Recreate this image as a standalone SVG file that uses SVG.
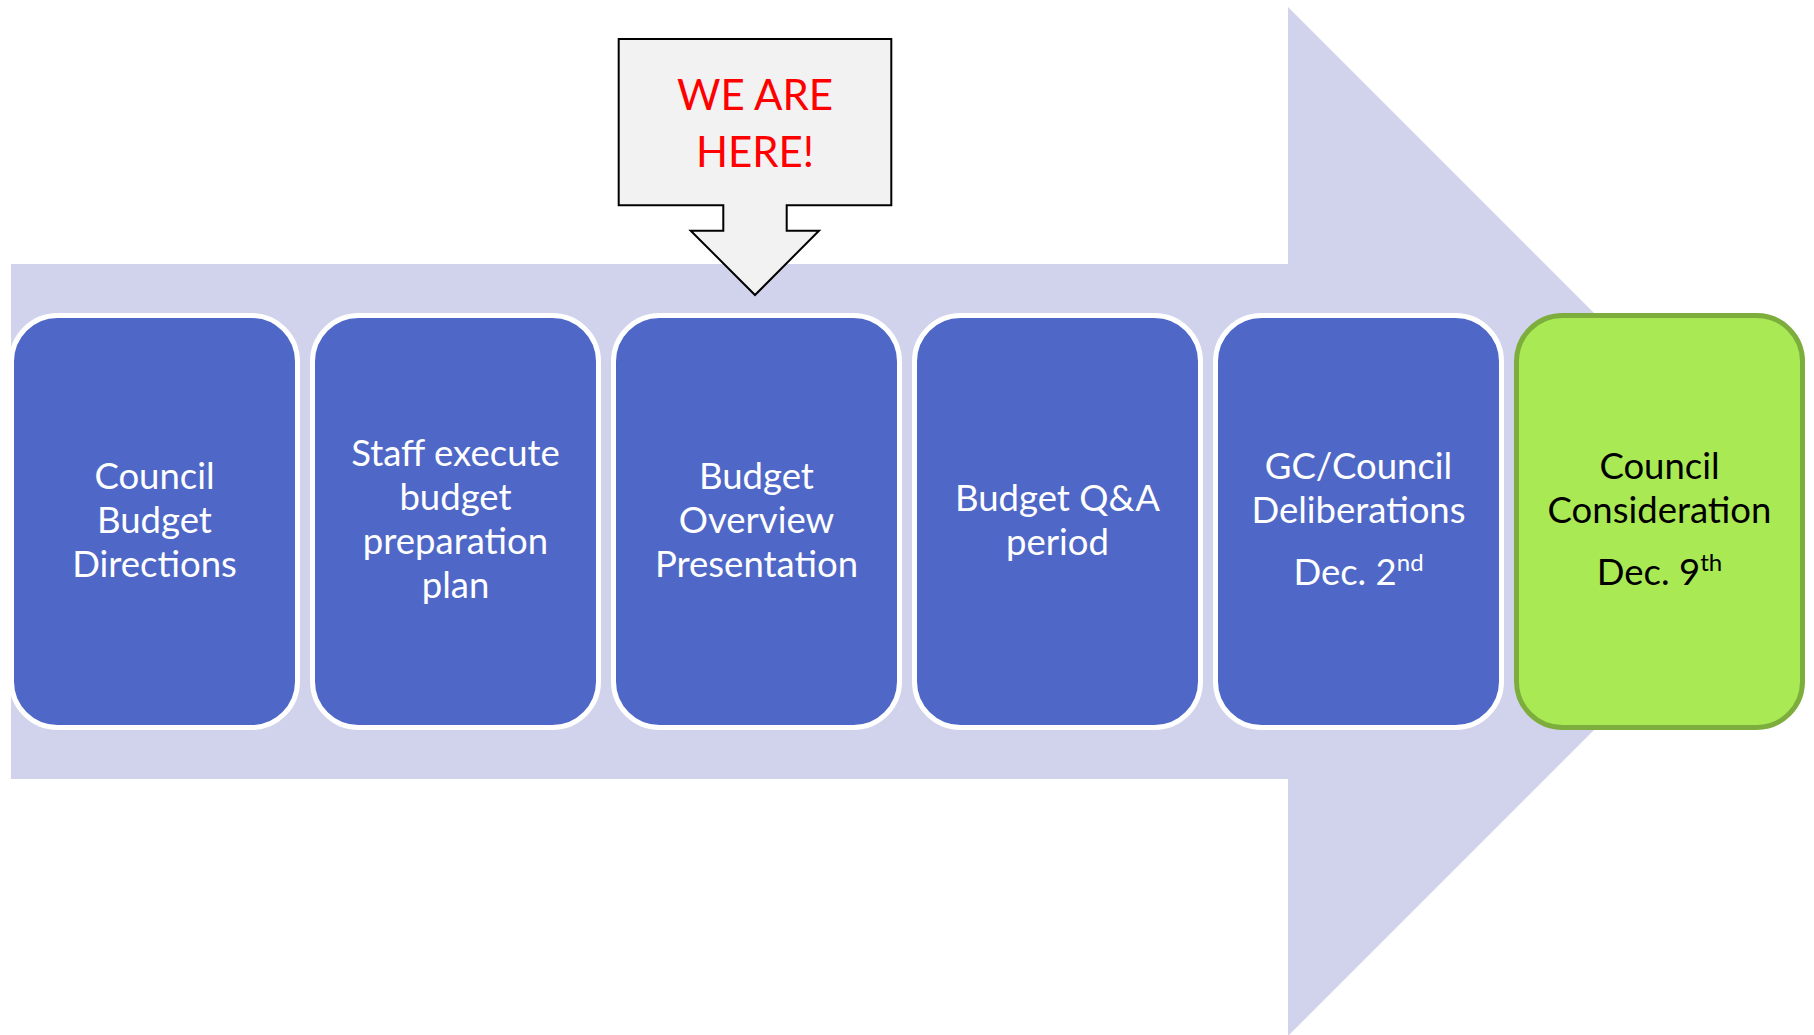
<svg xmlns="http://www.w3.org/2000/svg" width="1814" height="1035" viewBox="0 0 1814 1035">
  <style>
    .band { fill: #D1D3EC; }
    .step rect { fill: #4F68C7; stroke: #FFFFFF; stroke-width: 5; }
    .step text { fill: #FFFFFF; font-family: Lato, "Open Sans", sans-serif; font-size: 36.5px; text-anchor: middle; }
    .final rect { fill: #A9EA54; stroke: #7DAE3D; stroke-width: 5; }
    .final text { fill: #000000; font-family: Lato, "Open Sans", sans-serif; font-size: 36.5px; text-anchor: middle; }
    .sup { font-size: 24px; }
    .callout path { fill: #F2F2F2; stroke: #000000; stroke-width: 2; stroke-linejoin: miter; }
    .callout text { fill: #FF0000; font-family: Lato, "Open Sans", sans-serif; font-size: 42px; text-anchor: middle; }
  </style>

  <!-- wide process arrow behind the steps -->
  <g id="process-arrow">
    <polygon class="band" points="11,264 1288,264 1288,7 1802.5,521.5 1288,1036 1288,779 11,779"/>
  </g>

  <!-- process steps -->
  <g id="step-1" class="step">
    <rect x="11.5" y="315.5" width="286" height="412" rx="46" ry="46"/>
    <text x="154.5" y="489">Council</text>
    <text x="154.5" y="533">Budget</text>
    <text x="154.5" y="577">Directions</text>
  </g>

  <g id="step-2" class="step">
    <rect x="312.5" y="315.5" width="286" height="412" rx="46" ry="46"/>
    <text x="455.5" y="466">Staff execute</text>
    <text x="455.5" y="510">budget</text>
    <text x="455.5" y="554">preparation</text>
    <text x="455.5" y="598">plan</text>
  </g>

  <g id="step-3" class="step">
    <rect x="613.5" y="315.5" width="286" height="412" rx="46" ry="46"/>
    <text x="756.5" y="489">Budget</text>
    <text x="756.5" y="533">Overview</text>
    <text x="756.5" y="577">Presentation</text>
  </g>

  <g id="step-4" class="step">
    <rect x="914.5" y="315.5" width="286" height="412" rx="46" ry="46"/>
    <text x="1057.5" y="511">Budget Q&amp;A</text>
    <text x="1057.5" y="555">period</text>
  </g>

  <g id="step-5" class="step">
    <rect x="1215.5" y="315.5" width="286" height="412" rx="46" ry="46"/>
    <text x="1358.5" y="479">GC/Council</text>
    <text x="1358.5" y="523">Deliberations</text>
    <text x="1358.5" y="585">Dec. 2<tspan class="sup" dy="-14">nd</tspan></text>
  </g>

  <g id="step-6" class="final">
    <rect x="1516.5" y="315.5" width="286" height="412" rx="46" ry="46"/>
    <text x="1659.5" y="479">Council</text>
    <text x="1659.5" y="523">Consideration</text>
    <text x="1659.5" y="585">Dec. 9<tspan class="sup" dy="-14">th</tspan></text>
  </g>

  <!-- "you are here" marker pointing at step 3 -->
  <g id="marker" class="callout">
    <path d="M618.7,39 H891.3 V205.3 H786.7 V230.7 H819 L755,295 L690.7,230.7 H723.3 V205.3 H618.7 Z"/>
    <text x="755" y="110">WE ARE</text>
    <text x="755" y="167">HERE!</text>
  </g>

  <g id="connectors"/>
</svg>
